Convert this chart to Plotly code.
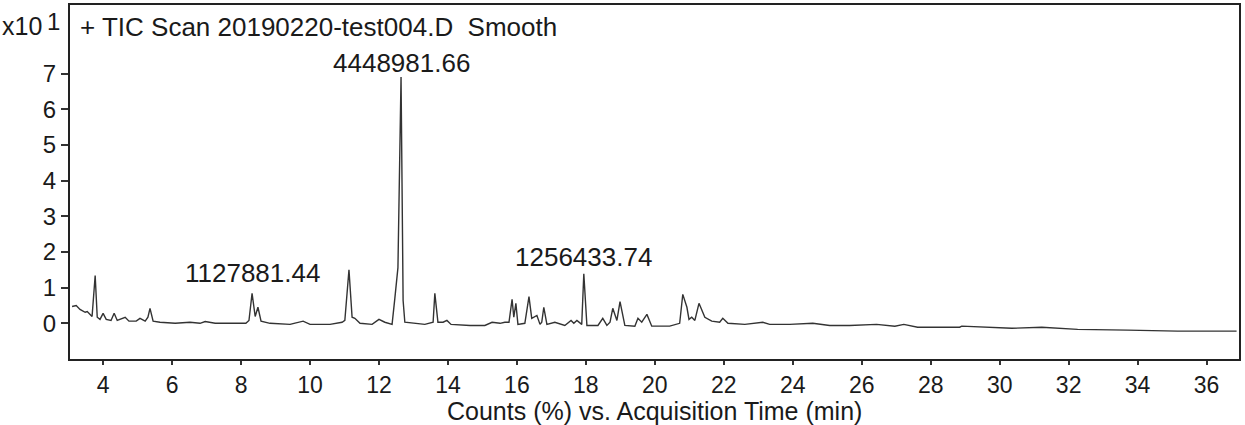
"""
TIC chromatogram (smoothed) - counts vs. acquisition time
"""

import plotly.graph_objects as go

# Trace: acquisition time (min) and counts (x10^1)
time_min = [
    3.10, 3.22, 3.33, 3.48, 3.54, 3.68, 3.77, 3.83, 3.91, 4.00,
    4.09, 4.23, 4.32, 4.41, 4.64, 4.75, 4.96, 5.07, 5.22, 5.30,
    5.36, 5.45, 5.65, 6.09, 6.52, 6.81, 6.96, 7.25, 7.68, 8.14,
    8.23, 8.32, 8.41, 8.49, 8.58, 8.84, 9.42, 9.80, 10.00, 10.58,
    10.93, 11.01, 11.13, 11.22, 11.30, 11.45, 11.80, 12.00, 12.17, 12.38,
    12.46, 12.55, 12.64, 12.70, 12.75, 13.04, 13.33, 13.57, 13.62, 13.71,
    13.86, 13.97, 14.09, 14.64, 15.07, 15.28, 15.51, 15.65, 15.77, 15.86,
    15.91, 15.97, 16.03, 16.23, 16.35, 16.43, 16.58, 16.67, 16.72, 16.78,
    16.87, 17.10, 17.39, 17.57, 17.65, 17.74, 17.88, 17.94, 18.03, 18.35,
    18.49, 18.61, 18.70, 18.78, 18.90, 18.99, 19.13, 19.42, 19.51, 19.62,
    19.77, 19.91, 20.43, 20.72, 20.81, 20.93, 20.99, 21.07, 21.16, 21.28,
    21.45, 21.65, 21.88, 21.97, 22.12, 22.61, 23.13, 23.33, 23.91, 24.58,
    25.07, 25.65, 26.43, 26.96, 27.22, 27.62, 28.84, 28.90, 30.35, 31.22,
    32.26, 33.71, 35.16, 36.87,
]
counts = [
    0.47, 0.50, 0.39, 0.31, 0.33, 0.19, 1.34, 0.17, 0.11, 0.28,
    0.11, 0.08, 0.28, 0.08, 0.17, 0.06, 0.06, 0.14, 0.06, 0.17,
    0.42, 0.06, 0.03, 0.00, 0.03, 0.00, 0.05, 0.00, 0.00, 0.00,
    0.08, 0.84, 0.19, 0.45, 0.06, 0.00, -0.03, 0.06, -0.03, -0.03,
    0.03, 0.08, 1.50, 0.17, 0.14, 0.00, -0.03, 0.11, 0.03, -0.03,
    0.70, 1.56, 6.90, 0.64, 0.03, 0.00, -0.03, 0.03, 0.84, 0.03,
    0.03, 0.08, -0.03, -0.06, -0.06, 0.03, 0.00, 0.03, 0.03, 0.67,
    0.17, 0.56, -0.03, 0.00, 0.75, 0.14, 0.22, -0.03, 0.03, 0.45,
    -0.03, 0.03, -0.06, 0.08, 0.00, 0.08, -0.03, 1.39, -0.06, -0.06,
    0.14, -0.06, 0.03, 0.42, 0.08, 0.61, -0.06, -0.08, 0.14, 0.03,
    0.25, -0.08, -0.08, 0.00, 0.81, 0.45, 0.11, 0.17, 0.08, 0.56,
    0.17, 0.06, 0.03, 0.14, 0.00, -0.03, 0.03, -0.03, -0.03, 0.00,
    -0.06, -0.06, -0.03, -0.08, -0.03, -0.11, -0.11, -0.08, -0.14, -0.11,
    -0.17, -0.19, -0.22, -0.22,
]

# Labelled peaks (peak area text)
peak_times = [8.32, 12.64, 17.94]
peak_heights = [0.84, 6.90, 1.39]
peak_labels = ["1127881.44", "4448981.66", "1256433.74"]

x_ticks = list(range(4, 37, 2))
y_ticks = list(range(0, 8))

FONT = "Liberation Sans, Arial, sans-serif"
INK = "#1a1a1a"

fig = go.Figure()

fig.add_trace(go.Scatter(
    x=time_min,
    y=counts,
    mode="lines",
    line=dict(color="#333333", width=1.4),
    hoverinfo="x+y",
    showlegend=False
))

# Peak labels
label_shift = {"1127881.44": 18, "4448981.66": 12, "1256433.74": 15}
for t, h, txt in zip(peak_times, peak_heights, peak_labels):
    fig.add_annotation(
        x=t, y=h, xref="x", yref="y",
        text=txt, showarrow=False,
        yanchor="bottom", yshift=label_shift[txt] - 15,
        font=dict(family=FONT, size=26, color=INK)
    )

# Chart title inside the frame
fig.add_annotation(
    x=0, y=0.938, xref="paper", yref="paper",
    text="+ TIC Scan 20190220-test004.D\u00a0\u00a0Smooth",
    showarrow=False, xanchor="left", yanchor="middle", xshift=8,
    font=dict(family=FONT, size=26, color=INK)
)

# y-axis multiplier "x10^1"
fig.add_annotation(
    x=0, y=0.94, xref="paper", yref="paper",
    text="x10", showarrow=False, xanchor="right", yanchor="middle", xshift=-26,
    font=dict(family=FONT, size=25, color=INK)
)
fig.add_annotation(
    x=0, y=0.952, xref="paper", yref="paper",
    text="1", showarrow=False, xanchor="right", yanchor="middle", xshift=-8,
    font=dict(family=FONT, size=24, color=INK)
)

# x-axis title
fig.add_annotation(
    x=0.5, y=-0.148, xref="paper", yref="paper",
    text="Counts (%) vs. Acquisition Time (min)",
    showarrow=False, xanchor="center", yanchor="middle",
    font=dict(family=FONT, size=25, color=INK)
)

fig.update_layout(
    width=1245,
    height=425,
    margin=dict(l=70, r=6, t=3, b=66),
    plot_bgcolor="white",
    paper_bgcolor="white",
    font=dict(family=FONT, size=24, color=INK),
    xaxis=dict(
        range=[3.04, 36.94],
        tickvals=x_ticks,
        ticks="outside",
        ticklen=4,
        tickwidth=1.5,
        tickcolor="#333",
        showgrid=False,
        zeroline=False,
        showline=True,
        linecolor="#222",
        linewidth=2,
        mirror=True,
        tickfont=dict(family=FONT, size=23, color=INK)
    ),
    yaxis=dict(
        range=[-1.0, 8.92],
        tickvals=y_ticks,
        ticks="outside",
        ticklen=7,
        tickwidth=1.5,
        tickcolor="#333",
        showgrid=False,
        zeroline=False,
        showline=True,
        linecolor="#222",
        linewidth=2,
        mirror=True,
        tickfont=dict(family=FONT, size=24, color=INK)
    )
)

# drop the page's default body margin so the figure sits at the window's corner
fig.write_html(
    "out.html",
    config={"displayModeBar": False},
    post_script="document.body.style.margin='0px';"
)
